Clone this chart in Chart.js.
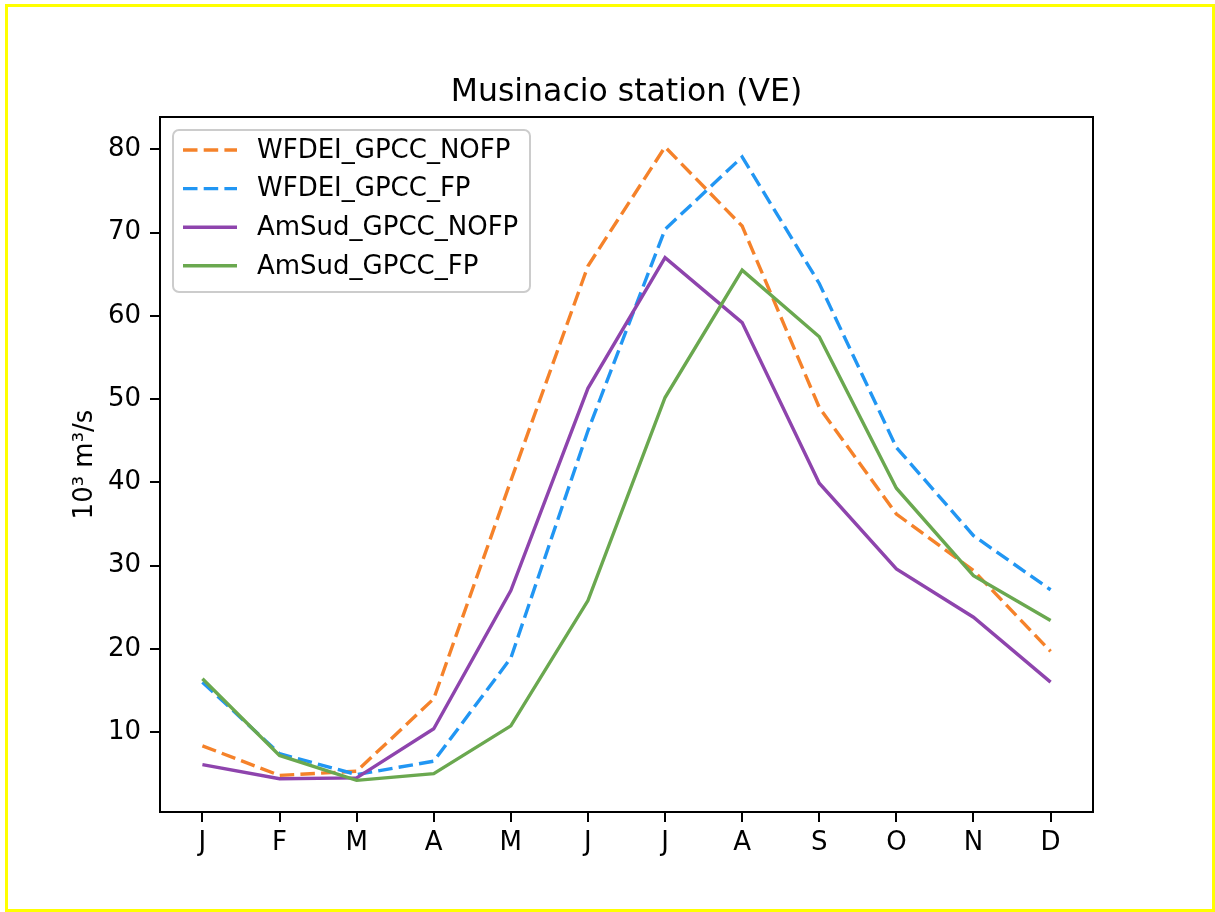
<!DOCTYPE html>
<html>
<head>
<meta charset="utf-8">
<script src="https://cdn.jsdelivr.net/npm/chart.js@4.4.1/dist/chart.umd.min.js"></script>
<style>
  html, body { margin: 0; padding: 0; background: #fff; }
  #frame { position: absolute; left: 5px; top: 4px; width: 1210px; height: 908px; box-sizing: border-box; border: 3px solid #ffff00; }
  #chart { position: absolute; left: 0; top: 0; }
</style>
</head>
<body>
<div id="frame"></div>
<canvas id="chart" width="1215" height="912"></canvas>
<script>
const months = ["J", "F", "M", "A", "M", "J", "J", "A", "S", "O", "N", "D"];
const yTicks = [10, 20, 30, 40, 50, 60, 70, 80];

const wfdeiNofp = [8.35, 4.8, 5.3, 14.0, 40.2, 66.0, 80.3, 70.8, 49.0, 36.2, 29.4, 19.7];
const wfdeiFp   = [16.0, 7.4, 4.9, 6.5, 18.9, 46.2, 70.4, 79.1, 63.9, 44.2, 33.6, 27.1];
const amsudNofp = [6.1, 4.4, 4.5, 10.4, 27.0, 51.3, 67.0, 59.2, 39.9, 29.6, 23.8, 16.0];
const amsudFp   = [16.4, 7.2, 4.2, 5.0, 10.75, 25.8, 50.2, 65.5, 57.5, 39.3, 28.8, 23.4];

const chartTitle = 'Musinacio station (VE)';
const FONT = "'DejaVu Sans', sans-serif";
const DASH = [14.5, 6.2];

const toPoints = arr => arr.map((v, i) => ({ x: i, y: v }));

// frame round the axes, title over the axes and legend in the upper left corner
const axesBox = {
  id: 'axesBox',
  afterDraw(chart) {
    const { ctx, chartArea: a } = chart;
    ctx.save();
    ctx.strokeStyle = '#000';
    ctx.lineWidth = 2;
    ctx.strokeRect(a.left, a.top, a.right - a.left, a.bottom - a.top);

    ctx.fillStyle = '#000';
    ctx.font = '31.5px ' + FONT;
    ctx.textAlign = 'center';
    ctx.textBaseline = 'alphabetic';
    ctx.fillText(chartTitle, (a.left + a.right) / 2, 101);

    // legend
    const x0 = 173, y0 = 130, w = 357, h = 162, r = 6;
    ctx.beginPath();
    ctx.roundRect(x0, y0, w, h, r);
    ctx.fillStyle = 'rgba(255,255,255,0.8)';
    ctx.fill();
    ctx.strokeStyle = '#cccccc';
    ctx.lineWidth = 2;
    ctx.stroke();

    ctx.font = '26px ' + FONT;
    ctx.textBaseline = 'middle';
    ctx.textAlign = 'left';
    chart.data.datasets.forEach((ds, i) => {
      const yy = 150 + i * 38.6;
      ctx.beginPath();
      ctx.setLineDash(ds.borderDash || []);
      ctx.strokeStyle = ds.borderColor;
      ctx.lineWidth = ds.borderWidth;
      ctx.moveTo(183, yy);
      ctx.lineTo(237, yy);
      ctx.stroke();
      ctx.setLineDash([]);
      ctx.fillStyle = '#000';
      ctx.fillText(ds.label, 257, yy + 1);
    });
    ctx.restore();
  }
};

const line = (label, data, color, dashed, order) => ({
  label,
  data: toPoints(data),
  borderColor: color,
  backgroundColor: color,
  borderWidth: 3.4,
  borderDash: dashed ? DASH : [],
  pointRadius: 0,
  tension: 0,
  order
});

new Chart(document.getElementById('chart'), {
  type: 'line',
  data: {
    datasets: [
      line('WFDEI_GPCC_NOFP', wfdeiNofp, '#f5822a', true, 3),
      line('WFDEI_GPCC_FP', wfdeiFp, '#2196f3', true, 2),
      line('AmSud_GPCC_NOFP', amsudNofp, '#8e44ad', false, 1),
      line('AmSud_GPCC_FP', amsudFp, '#6aa84f', false, 0)
    ]
  },
  options: {
    responsive: false,
    animation: false,
    layout: { padding: { left: 0, right: 122, top: 117, bottom: 0 } },
    plugins: {
      legend: { display: false },
      tooltip: { enabled: false },
      title: { display: false }
    },
    scales: {
      x: {
        type: 'linear',
        min: -0.55,
        max: 11.55,
        afterBuildTicks: axis => { axis.ticks = months.map((m, i) => ({ value: i })); },
        afterFit: axis => { axis.height = 100; },
        ticks: {
          autoSkip: false,
          maxRotation: 0,
          color: '#000',
          padding: 6,
          font: { family: FONT, size: 26 },
          callback: v => months[v]
        },
        grid: { display: true, drawOnChartArea: false, drawTicks: true, tickLength: 10, color: '#000', lineWidth: 2 },
        border: { display: true, color: '#000', width: 2 }
      },
      y: {
        type: 'linear',
        min: 0.4,
        max: 83.9,
        afterBuildTicks: axis => { axis.ticks = yTicks.map(v => ({ value: v })); },
        afterFit: axis => { axis.width = 160; },
        ticks: {
          color: '#000',
          padding: 9,
          font: { family: FONT, size: 26 }
        },
        title: {
          display: true,
          text: '10³ m³/s',
          color: '#000',
          font: { family: FONT, size: 26 },
          padding: { top: 70, bottom: 0 }
        },
        grid: { display: true, drawOnChartArea: false, drawTicks: true, tickLength: 10, color: '#000', lineWidth: 2 },
        border: { display: true, color: '#000', width: 2 }
      }
    }
  },
  plugins: [axesBox]
});
</script>
</body>
</html>
